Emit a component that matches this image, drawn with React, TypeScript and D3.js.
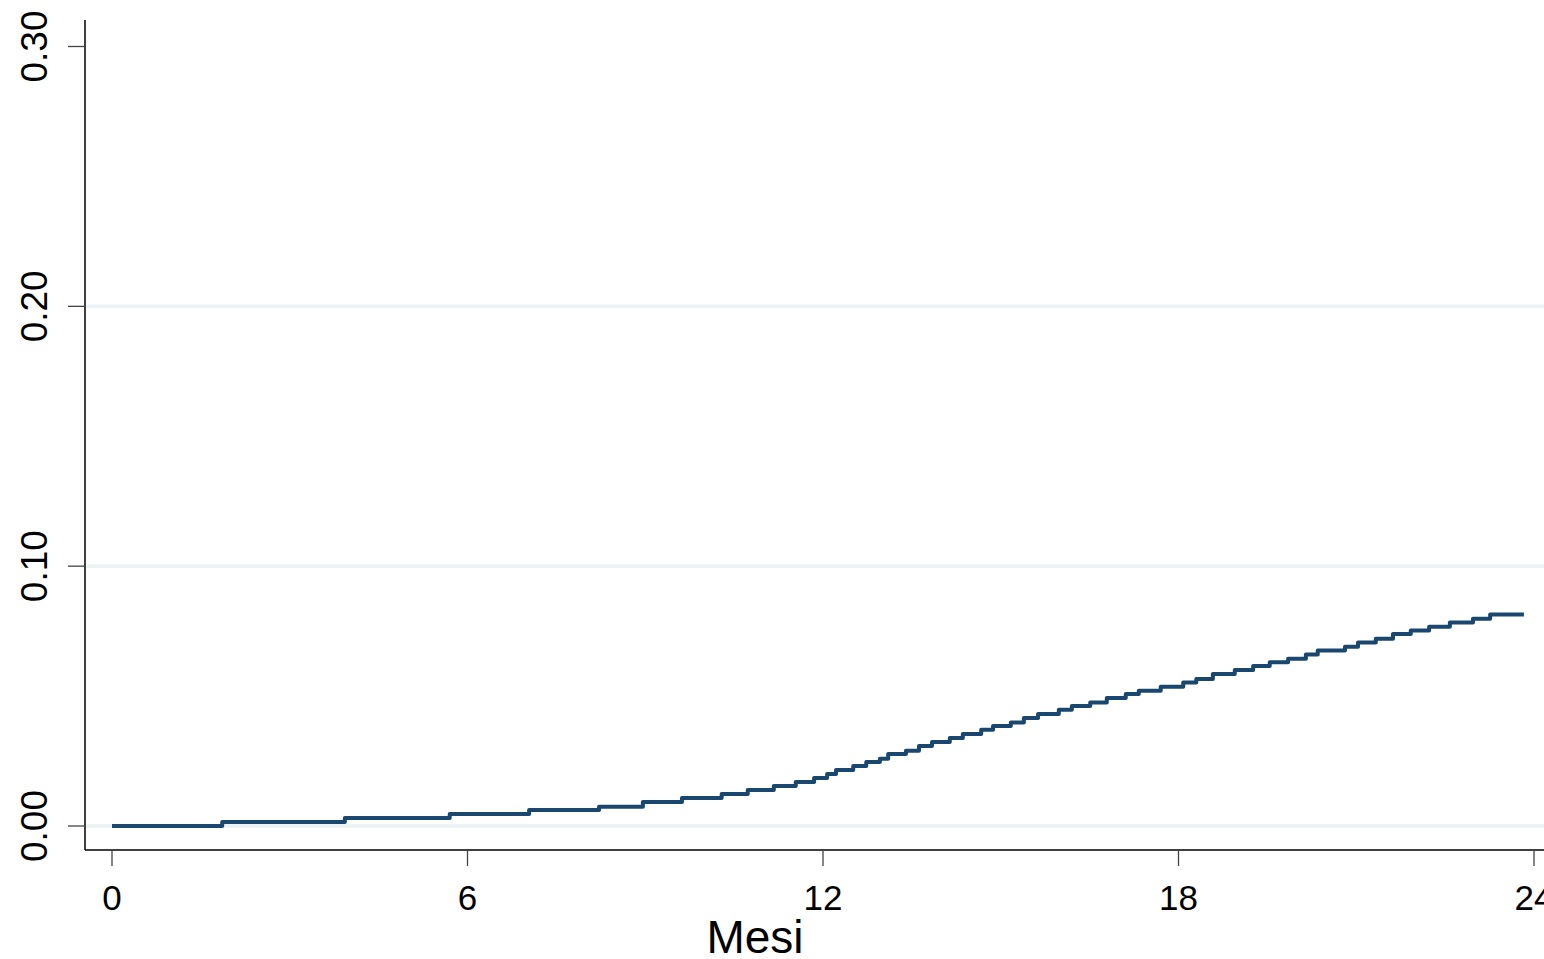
import { useEffect, useRef } from "react";
import * as d3 from "d3";

// Kaplan-Meier style cumulative incidence (failure) estimate
const months = [
  0, 1.86, 3.93, 5.7, 7.04, 8.22, 8.96, 9.62, 10.29, 10.73, 11.17, 11.54, 11.85,
  12.07, 12.22, 12.51, 12.73, 12.96, 13.1, 13.4, 13.62, 13.84, 14.14, 14.36,
  14.67, 14.87, 15.17, 15.39, 15.63, 15.98, 16.2, 16.51, 16.79, 17.11, 17.33,
  17.7, 18.08, 18.3, 18.58, 18.95, 19.26, 19.54, 19.85, 20.15, 20.35, 20.81,
  21.03, 21.33, 21.62, 21.92, 22.23, 22.58, 22.97, 23.26, 23.83,
];
const failure = [
  0, 0.0015, 0.0031, 0.0046, 0.0062, 0.0074, 0.0092, 0.0108, 0.0123, 0.0139,
  0.0154, 0.0169, 0.0185, 0.02, 0.0216, 0.0231, 0.0246, 0.0259, 0.0277, 0.029,
  0.0308, 0.0323, 0.0339, 0.0354, 0.037, 0.0385, 0.0398, 0.0416, 0.0431,
  0.0447, 0.0462, 0.0475, 0.0493, 0.0508, 0.0521, 0.0536, 0.0552, 0.0566,
  0.0585, 0.06, 0.0616, 0.063, 0.0644, 0.066, 0.0675, 0.069, 0.0706, 0.0721,
  0.0739, 0.0752, 0.0767, 0.0783, 0.0798, 0.0814, 0.0814,
];
const xTicks = [0, 6, 12, 18, 24];
const yTicks = [0, 0.1, 0.2, 0.3];
const gridTicks = [0, 0.1, 0.2];
const xTitle = "Mesi";

const W = 1544;
const H = 959;
const FONT = "'Liberation Sans', Arial, Helvetica, sans-serif";

export default function App() {
  const svgRef = useRef<SVGSVGElement>(null);

  useEffect(() => {
    if (!svgRef.current) return;
    const svg = d3.select(svgRef.current);
    svg.selectAll("*").remove();

    const x = d3.scaleLinear().domain([0, 24]).range([112, 1534]);
    const y = d3.scaleLinear().domain([0, 0.3]).range([826, 46.5]);
    const axisX = 85;
    const axisY = 850;

    // grid lines
    svg
      .append("g")
      .selectAll("line")
      .data(gridTicks)
      .join("line")
      .attr("x1", axisX + 1)
      .attr("x2", W)
      .attr("y1", (d) => y(d))
      .attr("y2", (d) => y(d))
      .attr("stroke", "#eaf2f3")
      .attr("stroke-width", 3.5);

    // y axis
    const gy = svg.append("g").attr("transform", `translate(${axisX},0)`);
    gy.append("line")
      .attr("x1", 0)
      .attr("x2", 0)
      .attr("y1", 20)
      .attr("y2", axisY)
      .attr("stroke", "#000")
      .attr("stroke-width", 1.5);
    gy.selectAll("line.tick")
      .data(yTicks)
      .join("line")
      .attr("class", "tick")
      .attr("x1", -17)
      .attr("x2", 0)
      .attr("y1", (d) => y(d))
      .attr("y2", (d) => y(d))
      .attr("stroke", "#444")
      .attr("stroke-width", 1.3);
    svg
      .append("g")
      .selectAll("text")
      .data(yTicks)
      .join("text")
      .attr("transform", (d) => `translate(47,${y(d)}) rotate(-90)`)
      .attr("text-anchor", "middle")
      .attr("font-family", FONT)
      .attr("font-size", 37)
      .attr("fill", "#000")
      .text((d) => d3.format(".2f")(d));

    // x axis
    const gx = svg.append("g").attr("transform", `translate(0,${axisY})`);
    gx.append("line")
      .attr("x1", axisX)
      .attr("x2", W)
      .attr("y1", 0)
      .attr("y2", 0)
      .attr("stroke", "#000")
      .attr("stroke-width", 1.5);
    gx.selectAll("line.tick")
      .data(xTicks)
      .join("line")
      .attr("class", "tick")
      .attr("x1", (d) => x(d))
      .attr("x2", (d) => x(d))
      .attr("y1", 0)
      .attr("y2", 16)
      .attr("stroke", "#444")
      .attr("stroke-width", 1.3);
    gx.selectAll("text")
      .data(xTicks)
      .join("text")
      .attr("x", (d) => x(d))
      .attr("y", 60)
      .attr("text-anchor", "middle")
      .attr("font-family", FONT)
      .attr("font-size", 35)
      .attr("fill", "#000")
      .text((d) => String(d));

    svg
      .append("text")
      .attr("x", 755)
      .attr("y", 953)
      .attr("text-anchor", "middle")
      .attr("font-family", FONT)
      .attr("font-size", 46)
      .attr("fill", "#000")
      .text(xTitle);

    // step curve
    const pts: [number, number][] = months.map((m, i) => [m, failure[i]]);
    const line = d3
      .line<[number, number]>()
      .x((d) => x(d[0]))
      .y((d) => y(d[1]))
      .curve(d3.curveStepAfter);
    svg
      .append("path")
      .datum(pts)
      .attr("d", line)
      .attr("fill", "none")
      .attr("stroke", "#1a476f")
      .attr("stroke-width", 4)
      .attr("stroke-linejoin", "round");
  }, []);

  return (
    <svg
      ref={svgRef}
      width={W}
      height={H}
      style={{ position: "absolute", left: 0, top: 0, display: "block", background: "#fff" }}
    />
  );
}
